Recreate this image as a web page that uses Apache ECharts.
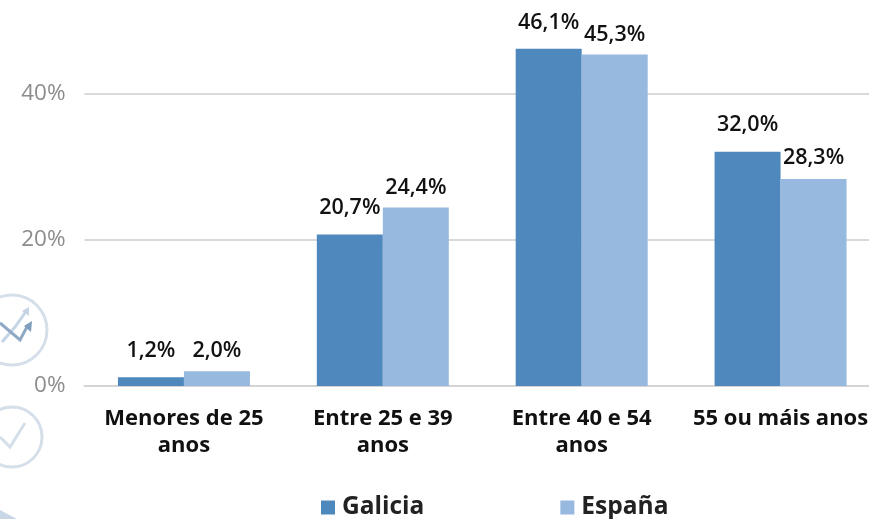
<!DOCTYPE html>
<html><head><meta charset="utf-8">
<style>html,body{margin:0;padding:0;background:#fff}#c{width:869px;height:519px}</style>
<script src="https://cdn.jsdelivr.net/npm/echarts@6/dist/echarts.min.js"></script>
</head><body><div id="c"></div>
<script>
const categories = ['Menores de 25\nanos','Entre 25 e 39\nanos','Entre 40 e 54\nanos','55 ou máis anos'];
const galicia = [1.2,20.7,46.1,32.0];
const espana = [2.0,24.4,45.3,28.3];
const galiciaLift = [15,16,15,16];
const espanaLift = [9,9,9,10];
const fmt = v => v.toFixed(1).replace('.',',') + '%';
const font = 'Open Sans';
function series(name,vals,color,lifts){
  return {name,type:'bar',barWidth:66,barGap:0,z:3,
    itemStyle:{color},
    data:vals.map((v,i)=>({value:v,label:{distance:lifts[i]}})),
    label:{show:true,position:'top',formatter:p=>fmt(p.value),color:'#111',fontFamily:font,fontWeight:600,fontSize:21.5}};
}
const chart = echarts.init(document.getElementById('c'),null,{renderer:'canvas'});
const pale = '#d5dfea';
chart.setOption({
  animation:false,
  backgroundColor:'#fff',
  grid:{left:84.5,right:-11,top:-53,bottom:133,outerBoundsMode:'none'},
  xAxis:{type:'category',data:categories,
    axisLine:{lineStyle:{color:'#d4d4d4',width:2}},axisTick:{show:false},
    axisLabel:{interval:0,color:'#111',fontFamily:font,fontWeight:700,fontSize:22,lineHeight:27,margin:19}},
  yAxis:{type:'value',min:0,max:60,interval:20,
    axisLine:{show:false},axisTick:{show:false},
    splitLine:{lineStyle:{color:'#d9d9d9',width:2}},
    axisLabel:{formatter:'{value}%',color:'#8c8c8c',fontFamily:font,fontWeight:500,fontSize:22.5,margin:19}},
  legend:{top:490,left:316,itemWidth:14,itemHeight:14,itemGap:136,icon:'rect',
    textStyle:{color:'#222',fontFamily:font,fontWeight:700,fontSize:24.5,padding:[0,0,0,2]},
    data:['Galicia','España']},
  series:[series('Galicia',galicia,'#4f88bc',galiciaLift),series('España',espana,'#97b8df',espanaLift)],
  graphic:[
    {type:'circle',z:0,shape:{cx:12,cy:330,r:35},style:{fill:'none',stroke:pale,lineWidth:3}},
    {type:'polyline',z:0,shape:{points:[[2,342],[15,327],[27,310]]},style:{fill:'none',stroke:'#c4d5e6',lineWidth:3}},
    {type:'polygon',z:0,shape:{points:[[22,311],[29,307],[29,316]]},style:{fill:'#c4d5e6'}},
    {type:'polyline',z:0,shape:{points:[[0,323],[20,340],[28,325]]},style:{fill:'none',stroke:'#8fa9c4',lineWidth:3}},
    {type:'polygon',z:0,shape:{points:[[24,326],[32,321],[31,332]]},style:{fill:'#7f9dbc'}},
    {type:'circle',z:0,shape:{cx:12,cy:437,r:30},style:{fill:'none',stroke:pale,lineWidth:3}},
    {type:'polyline',z:0,shape:{points:[[0,437],[10,447],[25,423]]},style:{fill:'none',stroke:pale,lineWidth:3}},
    {type:'polygon',z:0,shape:{points:[[0,510],[17,519],[0,519]]},style:{fill:'#c9d6e5'}}
  ]
});
</script></body></html>
